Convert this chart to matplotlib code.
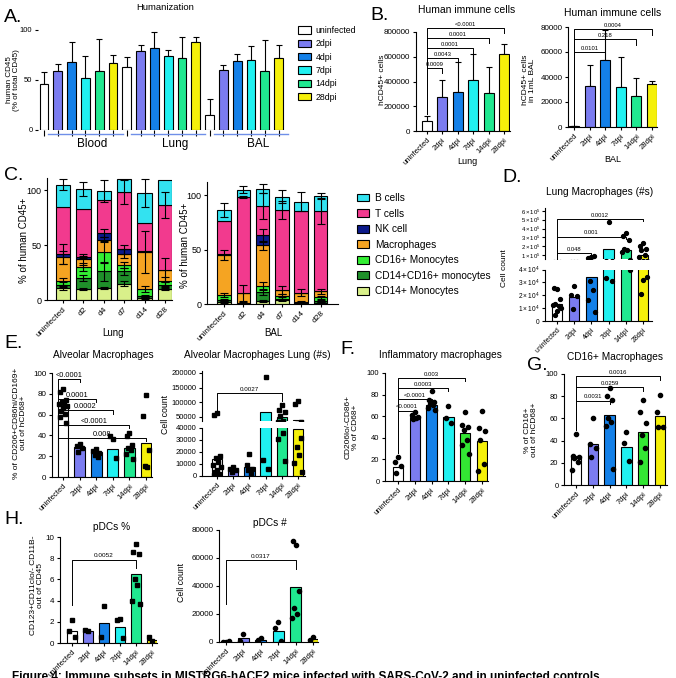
import numpy as np
import matplotlib
matplotlib.use('Agg')
import matplotlib.pyplot as plt
from matplotlib.patches import Patch

plt.rcParams['font.family'] = ['Liberation Sans', 'DejaVu Sans']
plt.rcParams['mathtext.fontset'] = 'custom'
plt.rcParams['mathtext.rm'] = 'Liberation Sans'
plt.rcParams['mathtext.it'] = 'Liberation Sans:italic'
plt.rcParams['axes.linewidth'] = 0.8
plt.rcParams['xtick.major.width'] = 0.8
plt.rcParams['ytick.major.width'] = 0.8
plt.rcParams['xtick.major.size'] = 2.5
plt.rcParams['ytick.major.size'] = 2.5
plt.rcParams['xtick.labelsize'] = 5.5
plt.rcParams['ytick.labelsize'] = 5.5
plt.rcParams['xtick.major.pad'] = 1.5
plt.rcParams['ytick.major.pad'] = 1.5

# ---------------- data ----------------
conds = ['uninfected', '2dpi', '4dpi', '7dpi', '14dpi', '28dpi']
cond_colors = ['white', '#7b7cf0', '#1480e8', '#20f0f0', '#20e890', '#f5f00a']
cond_colors_g = ['white', '#7b7cf0', '#1480e8', '#20f0f0', '#33e633', '#f5f00a']

# A. Humanization
tissues = ['Blood', 'Lung', 'BAL']
hum_mean = {'Blood': [46, 59, 68, 52, 59, 67],
            'Lung': [63, 79, 82, 74, 72, 88],
            'BAL': [15, 60, 69, 70, 59, 72]}
hum_top = {'Blood': [58, 66, 88, 74, 91, 75],
           'Lung': [73, 85, 98, 80, 93, 93],
           'BAL': [31, 65, 76, 84, 90, 85]}

# B. Human immune cells
lung_hcd45_mean = [80000, 275000, 315000, 415000, 310000, 625000]
lung_hcd45_top = [125000, 415000, 560000, 625000, 515000, 700000]
lung_hcd45_p = ['0.0009', '0.0043', '0.0001', '0.0001', '<0.0001']
bal_hcd45_mean = [500, 33000, 53500, 32000, 25000, 34500]
bal_hcd45_top = [1000, 50000, 78000, 56000, 39000, 37000]
bal_hcd45_p = ['0.0101', '0.218', '0.0004']

# C. Stacked composition
c_days = ['uninfected', 'd2', 'd4', 'd7', 'd14', 'd28']
c_types = ['CD14+ Monocytes', 'CD14+CD16+ monocytes', 'CD16+ Monocytes',
           'Macrophages', 'NK cell', 'T cells', 'B cells']
c_colors = ['#d9f08a', '#1f8f2a', '#33ee33', '#f5a422', '#0c1a8a', '#f23a8e', '#33e2f0']
c_lung = [[11, 10, 11, 15, 2, 10],
          [3, 10, 15, 11, 2, 4],
          [3, 10, 18, 6, 6, 3],
          [22, 7, 11, 10, 34, 10],
          [3, 2, 6, 4, 0.5, 0.5],
          [43, 44, 30, 52, 26, 59],
          [20, 18, 8, 12, 27, 23]]
c_lung_err = [[2, 1, 1, 2, 1, 1],
              [2, 3, 9, 3, 1, 2],
              [3, 4, 10, 3, 3, 4],
              [6, 5, 2, 4, 19, 11],
              [9, 1, 4, 4, 0, 0],
              [0, 0, 0, 11, 0, 12],
              [5, 6, 10, 0, 13, 0]]
c_bal = [[2, 0.5, 2.5, 4, 1, 1],
         [2, 0.3, 8.5, 1, 0.5, 1.5],
         [4, 0.2, 5.5, 2, 0.5, 3.5],
         [37, 9, 37.5, 6, 8.5, 5.5],
         [0.5, 0, 9, 0.3, 0, 0],
         [31, 88.5, 27, 73, 74.5, 73.5],
         [9.5, 6.5, 16, 12, 9, 14]]
c_bal_err = [[1, 0.3, 1, 1, 0.5, 0.5],
             [1, 0.3, 3, 1, 0.5, 1],
             [2, 0.5, 4, 2, 0.5, 1],
             [5, 7.5, 4, 3.5, 3, 2.5],
             [0, 0, 6, 0, 0, 0],
             [0, 1, 12, 8, 0, 12],
             [6.5, 3, 4, 6, 8.5, 2.5]]

# D. Lung macrophages (#s)
d_mean = [13000, 19000, 34000, 174000, 163000, 100000]
d_pts = [[25000, 26000, 17000, 13000, 12000, 12500, 10000, 8000, 4500],
         [27000, 20000, 19500, 9500],
         [80000, 72000, 85000, 31000, 24000, 16000, 7000],
         [478000, 33500, 31000],
         [348000, 320000, 274000, 174000, 155000, 137000, 40000],
         [237000, 200000, 174000, 155000, 100000, 81000, 34000, 32000, 21000]]
d_p = ['0.048', '0.001', '0.0012']

# E. Alveolar macrophages
e_mean = [68, 29, 24, 27, 28, 33]
e_pts = [[85, 82, 74, 72, 71, 70, 68, 66, 63, 61, 58, 52],
         [32, 30, 28, 24],
         [27, 25, 23, 21, 19],
         [37, 39, 18],
         [42, 39, 31, 28, 26, 22, 17],
         [79, 59, 26, 11, 10]]
e_p = ['<0.0001', '0.0001', '0.0002', '<0.0001', '0.008']
e2_mean = [14000, 5000, 7500, 68000, 50000, 39000]
e2_pts = [[63000, 57000, 17000, 15000, 12000, 9000, 7500, 5000, 3500, 2000, 500],
          [7500, 6000, 5000, 3500],
          [18000, 9000, 6000, 5000, 2000],
          [185000, 13000, 6000],
          [90000, 72000, 68000, 52000, 36000, 31000, 12500],
          [103000, 94000, 31500, 24500, 17500, 10500, 3400]]
e2_p = '0.0027'

# F. Inflammatory macrophages
f_mean = [13, 59, 70.5, 59, 44, 37]
f_pts = [[22, 18, 14, 7],
         [64, 61, 59, 57, 58],
         [83, 75, 73, 71, 70, 68, 66],
         [69, 58, 54],
         [64, 52, 50, 47, 38, 33, 25],
         [65, 49, 46, 38, 16, 9]]
f_p = ['<0.0001', '<0.0001', '0.0003', '0.003']

# G. CD16+ macrophages
g_mean = [26, 37, 63, 34, 48, 62]
g_pts = [[46, 26, 25, 24, 21, 13.5],
         [60, 37, 33, 25],
         [87, 80, 77, 60, 57, 53, 14],
         [48, 38, 22],
         [77, 66, 56, 45, 33, 21],
         [81, 66, 52, 52]]
g_p = ['0.0031', '0.0259', '0.0016']

# H. pDCs
h_mean = [1.1, 1.1, 1.9, 1.5, 6.5, 0.3]
h_pts = [[2.2, 1.1, 0.55], [1.1, 1.25], [3.5, 0.55], [2.3, 2.15, 0.5],
         [9.3, 8.6, 8.4, 6.0, 5.5, 4.0, 3.7], [0.2, 0.6]]
h_p = '0.0052'
h2_mean = [300, 3000, 1500, 8000, 39500, 2000]
h2_pts = [[200, 300, 500], [5500, 1000], [2800, 1200], [14000, 10000, 1000],
          [69000, 72000, 36500, 24000, 20000, 17500], [3600, 1500]]
h2_p = '0.0317'

caption = ('Figure 4: Immune subsets in MISTRG6-hACE2 mice infected with SARS-CoV-2 '
           'and in uninfected controls.')

# ---------------- helpers ----------------
W, H = 676, 678
fig = plt.figure(figsize=(W / 100, H / 100), dpi=100)


def add_ax(L, T, R, B):
    ax = fig.add_axes([L / W, 1 - B / H, (R - L) / W, (B - T) / H])
    for s in ['top', 'right']:
        ax.spines[s].set_visible(False)
    return ax


def setx(ax, L, R, c0, s):
    ax.set_xlim((L - c0) / s, (R - c0) / s)


def ftext(x, y, s, **kw):
    return fig.text(x / W, 1 - y / H, s, **kw)


def bracket(ax, x1, x2, y, yl, yr, txt, fs=4.3, off=1.0):
    ax.plot([x1, x1, x2, x2], [yl, y, y, yr], color='black', lw=0.7,
            clip_on=False, zorder=5)
    ax.annotate(txt, xy=((x1 + x2) / 2, y), xytext=(0, off),
                textcoords='offset points', ha='center', va='bottom',
                fontsize=fs, annotation_clip=False)


def xoffsets(n):
    pat = [0, -0.17, 0.17, -0.09, 0.09, -0.22, 0.22, 0.0, -0.12, 0.12, -0.2, 0.2]
    return np.array([pat[i % len(pat)] for i in range(n)])


def dots(ax, pts, marker='o', ms=3.0):
    for i, p in enumerate(pts):
        ax.plot(i + xoffsets(len(p)), p, linestyle='none', marker=marker,
                ms=ms, color='black', zorder=4)


def cond_xticks(ax, labels=conds, fs=5.5):
    ax.set_xticks(range(len(labels)))
    ax.set_xticklabels(labels, rotation=45, ha='right', rotation_mode='anchor',
                       fontsize=fs)


# ---------------- Panel A ----------------
axA = add_ax(38, 30, 290, 130)
xA = np.arange(18)
meansA = sum([hum_mean[t] for t in tissues], [])
topsA = sum([hum_top[t] for t in tissues], [])
errA = np.array(topsA) - np.array(meansA)
axA.bar(xA, meansA, 0.65, color=cond_colors * 3, edgecolor='black', lw=0.8, zorder=2)
axA.errorbar(xA, meansA, yerr=[np.zeros(18), errA], fmt='none', ecolor='black',
             elinewidth=0.8, capsize=2.5, capthick=0.8, zorder=1)
axA.set_xlim((38 - 44) / 13.8, (290 - 44) / 13.8)
axA.set_ylim(0, 100)
axA.set_yticks([0, 50, 100])
axA.set_yticklabels(['0', '50', '100'], fontsize=5.5)
axA.set_xticks(xA)
axA.set_xticklabels([])
axA.tick_params(axis='x', length=4)
axA.spines['left'].set_visible(False)
axA.spines['bottom'].set_visible(False)
for g, t in enumerate(tissues):
    axA.plot([g * 6 + 0.3, g * 6 + 5.7], [-0.04, -0.04], color='#6f8fe8', lw=1.0,
             transform=axA.get_xaxis_transform(), clip_on=False)
    ftext(44 + (g * 6 + 3.5) * 13.8, 144, t, fontsize=8.5, ha='center', va='center')
ftext(165, 8, 'Humanization', fontsize=6.8, ha='center', va='center')
ftext(13, 80, 'human CD45\n(% of total CD45)', fontsize=5.8, rotation=90,
      ha='center', va='center', linespacing=1.0)
ftext(4, 17, 'A.', fontsize=14, ha='left', va='center')
fig.legend([Patch(facecolor=c, edgecolor='black', lw=0.8) for c in cond_colors],
           conds, loc='upper left', bbox_to_anchor=(298 / W, 1 - 26 / H),
           frameon=False, fontsize=6.3, handlelength=1.5, handleheight=0.9,
           handletextpad=0.5, labelspacing=0.5, borderaxespad=0, borderpad=0)

# ---------------- Panel B (left, lung) ----------------
axB1 = add_ax(416, 32, 510, 131)
x6 = np.arange(6)
axB1.bar(x6, lung_hcd45_mean, 0.65, color=cond_colors, edgecolor='black', lw=0.8, zorder=2)
axB1.errorbar(x6, lung_hcd45_mean,
              yerr=[np.zeros(6), np.array(lung_hcd45_top) - np.array(lung_hcd45_mean)],
              fmt='none', ecolor='black', elinewidth=0.8, capsize=2.5, capthick=0.8, zorder=1)
setx(axB1, 416, 510, 427, 15.4)
axB1.set_ylim(0, 800000)
axB1.set_yticks([0, 200000, 400000, 600000, 800000])
axB1.set_yticklabels(['0', '200000', '400000', '600000', '800000'], fontsize=5.8)
cond_xticks(axB1)
b1_heights = [509000, 590000, 670000, 751000, 832000]
for k, (hh, p) in enumerate(zip(b1_heights, lung_hcd45_p)):
    bracket(axB1, 0, k + 1, hh, 140000, hh - 40000, p, fs=4.2)
ftext(467, 10, 'Human immune cells', fontsize=7.5, ha='center', va='center')
ftext(383, 80, 'hCD45+ cells', fontsize=6, rotation=90, ha='center', va='center')
ftext(467, 162, 'Lung', fontsize=6.5, ha='center', va='center')
ftext(370, 15, 'B.', fontsize=14, ha='left', va='center')

# ---------------- Panel B (right, BAL) ----------------
axB2 = add_ax(568, 27, 657, 127)
axB2.bar(x6, bal_hcd45_mean, 0.65, color=cond_colors, edgecolor='black', lw=0.8, zorder=2)
axB2.errorbar(x6, bal_hcd45_mean,
              yerr=[np.zeros(6), np.array(bal_hcd45_top) - np.array(bal_hcd45_mean)],
              fmt='none', ecolor='black', elinewidth=0.8, capsize=2.5, capthick=0.8, zorder=1)
setx(axB2, 568, 657, 574, 15.6)
axB2.set_ylim(0, 80000)
axB2.set_yticks([0, 20000, 40000, 60000, 80000])
axB2.set_yticklabels(['0', '20000', '40000', '60000', '80000'], fontsize=5.8)
cond_xticks(axB2)
for tgt, hh, p in zip([2, 4, 5], [60000, 70400, 78400], bal_hcd45_p):
    bracket(axB2, 0, tgt, hh, 2000, hh - 4500, p, fs=4.2)
ftext(613, 13, 'Human immune cells', fontsize=7.5, ha='center', va='center')
ftext(529, 80, 'hCD45+ cells\nin 1mL BAL', fontsize=6, rotation=90, ha='center',
      va='center', linespacing=1.0)
ftext(613, 160, 'BAL', fontsize=6.5, ha='center', va='center')


# ---------------- Panel C ----------------
def stacked(ax, vals, errs):
    vals = np.array(vals, dtype=float)
    errs = np.array(errs, dtype=float)
    bottom = np.zeros(6)
    for k in range(len(vals)):
        ax.bar(x6, vals[k], 0.7, bottom=bottom, color=c_colors[k],
               edgecolor='black', lw=0.8, zorder=2)
        top = bottom + vals[k]
        m = errs[k] > 0
        ax.errorbar(x6[m], top[m], yerr=errs[k][m], fmt='none', ecolor='black',
                    elinewidth=0.8, capsize=3, capthick=0.8, zorder=3)
        bottom = top


axC1 = add_ax(47, 178, 172, 300)
stacked(axC1, c_lung, c_lung_err)
setx(axC1, 47, 172, 63, 20.4)
axC1.set_ylim(0, 111)
axC1.set_yticks([0, 50, 100])
axC1.set_yticklabels(['0', '50', '100'], fontsize=6.5)
cond_xticks(axC1, c_days, fs=6)
ftext(24, 240, '% of human CD45+', fontsize=7, rotation=90, ha='center', va='center')
ftext(113, 333, 'Lung', fontsize=7, ha='center', va='center')
ftext(4, 176, 'C.', fontsize=14, ha='left', va='center')

axC2 = add_ax(207, 182, 338, 304)
stacked(axC2, c_bal, c_bal_err)
setx(axC2, 207, 338, 224, 19.3)
axC2.set_ylim(0, 112)
axC2.set_yticks([0, 50, 100])
axC2.set_yticklabels(['0', '50', '100'], fontsize=6.5)
cond_xticks(axC2, c_days, fs=6)
ftext(185, 245, '% of human CD45+', fontsize=7, rotation=90, ha='center', va='center')
ftext(273, 333, 'BAL', fontsize=7, ha='center', va='center')
leg_order = list(range(len(c_types)))[::-1]
fig.legend([Patch(facecolor=c_colors[k], edgecolor='black', lw=0.8) for k in leg_order],
           [c_types[k] for k in leg_order], loc='upper left',
           bbox_to_anchor=(357 / W, 1 - 193 / H), frameon=False, fontsize=7.3,
           handlelength=1.2, handleheight=0.8, handletextpad=0.6,
           labelspacing=0.55, borderaxespad=0, borderpad=0)

# ---------------- Panel D (broken axis) ----------------
axD_hi = add_ax(545, 208, 652, 259)
axD_lo = add_ax(545, 269.5, 652, 321)
for ax in (axD_hi, axD_lo):
    ax.bar(x6, d_mean, 0.6, color=cond_colors, edgecolor='black', lw=0.8, zorder=2)
    dots(ax, d_pts, 'o', 2.8)
    setx(ax, 545, 652, 557, 17.2)
axD_hi.set_ylim(55600, 633000)
axD_hi.set_yticks([1e5, 2e5, 3e5, 4e5, 5e5, 6e5])
axD_hi.set_yticklabels([r'$%d\times10^5$' % k for k in range(1, 7)], fontsize=4.3)
axD_hi.tick_params(axis='y', pad=1)
axD_hi.spines['bottom'].set_visible(False)
axD_hi.set_xticks([])
axD_lo.set_ylim(0, 40000)
axD_lo.set_yticks([0, 10000, 20000, 30000, 40000])
axD_lo.set_yticklabels(['0'] + [r'$%d\times10^4$' % k for k in range(1, 5)], fontsize=4.8)
cond_xticks(axD_lo, fs=5)
for tgt, hh, p in zip([2, 4, 5], [119000, 310000, 507000], d_p):
    bracket(axD_hi, 0, tgt, hh, 60000, hh - 25000, p, fs=4.2)
ftext(600, 192, 'Lung Macrophages (#s)', fontsize=7.3, ha='center', va='center')
ftext(505, 268, 'Cell count', fontsize=6, rotation=90, ha='center', va='center')
ftext(502, 178, 'D.', fontsize=14, ha='left', va='center')

# ---------------- Panel E (left) ----------------
axE1 = add_ax(52, 373, 152, 477)
axE1.bar(x6, e_mean, 0.65, color=cond_colors, edgecolor='black', lw=0.8, zorder=2)
dots(axE1, e_pts, 's', 2.8)
setx(axE1, 52, 152, 63, 16.6)
axE1.set_ylim(0, 100)
axE1.set_yticks([0, 20, 40, 60, 80, 100])
axE1.set_yticklabels(['0', '20', '40', '60', '80', '100'], fontsize=5.8)
cond_xticks(axE1)
for k, (hh, p) in enumerate(zip([94, 75, 64, 50, 37.5], e_p)):
    bracket(axE1, -0.3, k + 1, hh, 40, hh - 3, p, fs=5.3, off=0.0)
ftext(103, 355, 'Alveolar Macrophages', fontsize=7.3, ha='center', va='center')
ftext(20, 423, '% of CD206+CD86hi/CD169+\nout of hCD68+', fontsize=6, rotation=90,
      ha='center', va='center', linespacing=1.1)
ftext(4, 343, 'E.', fontsize=14, ha='left', va='center')

# ---------------- Panel E (right, broken) ----------------
axE2_hi = add_ax(202, 371.5, 305, 421)
axE2_lo = add_ax(202, 428, 305, 476)
for ax in (axE2_hi, axE2_lo):
    ax.bar(x6, e2_mean, 0.65, color=cond_colors, edgecolor='black', lw=0.8, zorder=2)
    dots(ax, e2_pts, 's', 2.8)
    setx(ax, 202, 305, 217, 16.2)
axE2_hi.set_ylim(36000, 205000)
axE2_hi.set_yticks([50000, 100000, 150000, 200000])
axE2_hi.set_yticklabels(['50000', '100000', '150000', '200000'], fontsize=5.5)
axE2_hi.spines['bottom'].set_visible(False)
axE2_hi.set_xticks([])
axE2_lo.set_ylim(0, 40000)
axE2_lo.set_yticks([0, 10000, 20000, 30000, 40000])
axE2_lo.set_yticklabels(['0', '10000', '20000', '30000', '40000'], fontsize=5.5)
cond_xticks(axE2_lo)
bracket(axE2_hi, 0, 4, 130000, 70000, 103000, e2_p, fs=4.5)
ftext(257, 355, 'Alveolar Macrophages Lung (#s)', fontsize=7.3, ha='center', va='center')
ftext(166, 415, 'Cell count', fontsize=6.3, rotation=90, ha='center', va='center')

# ---------------- Panel F ----------------
axF = add_ax(385, 373, 488, 481)
axF.bar(x6, f_mean, 0.62, color=cond_colors_g, edgecolor='black', lw=0.8, zorder=2)
dots(axF, f_pts, 'o', 3.0)
setx(axF, 385, 488, 398, 16.8)
axF.set_ylim(0, 100)
axF.set_yticks([0, 20, 40, 60, 80, 100])
axF.set_yticklabels(['0', '20', '40', '60', '80', '100'], fontsize=5.5)
cond_xticks(axF)
for k, (hh, p) in enumerate(zip([65, 76, 86, 95.3], f_p)):
    bracket(axF, 0, k + 1, hh, 26, hh - 3, p, fs=4.3)
ftext(440, 355, 'Inflammatory macrophages', fontsize=7.3, ha='center', va='center')
ftext(352, 427, 'CD206lo/-CD86+\n% of CD68+', fontsize=6, rotation=90, ha='center',
      va='center', linespacing=1.1)
ftext(340, 350, 'F.', fontsize=14, ha='left', va='center')

# ---------------- Panel G ----------------
axG = add_ax(564, 374, 667, 485)
axG.bar(x6, g_mean, 0.62, color=cond_colors_g, edgecolor='black', lw=0.8, zorder=2)
dots(axG, g_pts, 'o', 3.0)
setx(axG, 564, 667, 576, 16.8)
axG.set_ylim(0, 100)
axG.set_yticks([0, 20, 40, 60, 80, 100])
axG.set_yticklabels(['0', '20', '40', '60', '80', '100'], fontsize=5.5)
cond_xticks(axG)
for tgt, hh, p in zip([2, 4, 5], [76, 88, 98], g_p):
    bracket(axG, 0, tgt, hh, 50, hh - 3, p, fs=4.3)
ftext(615, 357, 'CD16+ Macrophages', fontsize=7.3, ha='center', va='center')
ftext(531, 430, '% of CD16+\nout of hCD68+', fontsize=6, rotation=90, ha='center',
      va='center', linespacing=1.1)
ftext(527, 366, 'G.', fontsize=14, ha='left', va='center')

# ---------------- Panel H (left) ----------------
axH1 = add_ax(60, 537, 157, 643)
axH1.bar(x6, h_mean, 0.62, color=cond_colors, edgecolor='black', lw=0.8, zorder=2)
dots(axH1, h_pts, 's', 2.8)
setx(axH1, 60, 157, 72, 16)
axH1.set_ylim(0, 10)
axH1.set_yticks([0, 2, 4, 6, 8, 10])
axH1.set_yticklabels(['0', '2', '4', '6', '8', '10'], fontsize=5.8)
cond_xticks(axH1)
bracket(axH1, 0, 4, 7.85, 3.6, 7.05, h_p, fs=4.6)
ftext(112, 527, 'pDCs %', fontsize=7.3, ha='center', va='center')
ftext(37, 585, 'CD123+CD11clo/- CD11B-\nout of CD45', fontsize=6, rotation=90,
      ha='center', va='center', linespacing=1.1)
ftext(4, 519, 'H.', fontsize=14, ha='left', va='center')

# ---------------- Panel H (right) ----------------
axH2 = add_ax(219, 530, 318, 642)
axH2.bar(x6, h2_mean, 0.62, color=cond_colors, edgecolor='black', lw=0.8, zorder=2)
dots(axH2, h2_pts, 'o', 3.0)
setx(axH2, 219, 318, 226, 17.4)
axH2.set_ylim(0, 80000)
axH2.set_yticks([0, 20000, 40000, 60000, 80000])
axH2.set_yticklabels(['0', '20000', '40000', '60000', '80000'], fontsize=5.8)
cond_xticks(axH2)
bracket(axH2, 0, 4, 58500, 27500, 52500, h2_p, fs=4.6)
ftext(270, 523, 'pDCs #', fontsize=7.3, ha='center', va='center')
ftext(182, 582, 'Cell count', fontsize=6.3, rotation=90, ha='center', va='center')

# ---------------- caption (cut off at bottom) ----------------
ftext(12, 671, caption, fontsize=8.5, fontweight='bold', ha='left', va='top')

fig.savefig('out.png', dpi=100)
